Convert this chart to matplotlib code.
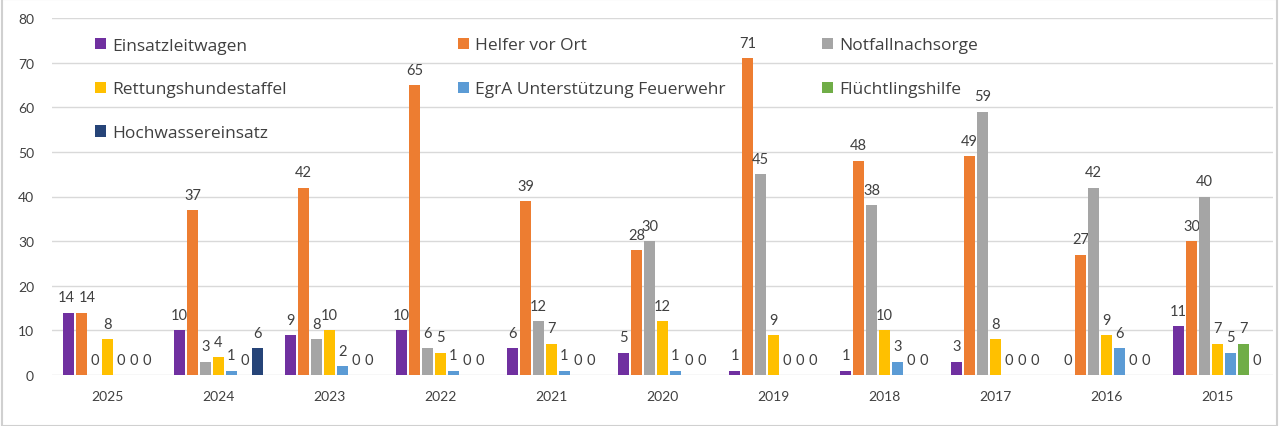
import matplotlib
matplotlib.use("Agg")
import matplotlib.pyplot as plt
from matplotlib.patches import Patch, Rectangle
import numpy as np

years = ["2025", "2024", "2023", "2022", "2021", "2020", "2019", "2018", "2017", "2016", "2015"]
series_names = ["Einsatzleitwagen", "Helfer vor Ort", "Notfallnachsorge", "Rettungshundestaffel",
                "EgrA Unterstützung Feuerwehr", "Flüchtlingshilfe", "Hochwassereinsatz"]
einsatzleitwagen = [14, 10, 9, 10, 6, 5, 1, 1, 3, 0, 11]
helfer_vor_ort = [14, 37, 42, 65, 39, 28, 71, 48, 49, 27, 30]
notfallnachsorge = [0, 3, 8, 6, 12, 30, 45, 38, 59, 42, 40]
rettungshundestaffel = [8, 4, 10, 5, 7, 12, 9, 10, 8, 9, 7]
egra_feuerwehr = [0, 1, 2, 1, 1, 1, 0, 3, 0, 6, 5]
fluechtlingshilfe = [0, 0, 0, 0, 0, 0, 0, 0, 0, 0, 7]
hochwasser = [0, 6, 0, 0, 0, 0, 0, 0, 0, 0, 0]
yticks = [0, 10, 20, 30, 40, 50, 60, 70, 80]

series = [einsatzleitwagen, helfer_vor_ort, notfallnachsorge, rettungshundestaffel,
          egra_feuerwehr, fluechtlingshilfe, hochwasser]
colors = ["#7030A0", "#ED7D31", "#A5A5A5", "#FFC000", "#5B9BD5", "#70AD47", "#264478"]

plt.rcParams["font.family"] = ["Lato", "DejaVu Sans"]
txt = "#404040"

fig = plt.figure(figsize=(12.8, 4.27), dpi=100)
ax = fig.add_axes([52 / 1280, 51 / 427, 1221 / 1280, 357 / 427])

x = np.arange(len(years))
pitch = 0.117
width = 0.095
n = len(series)
all_labels = []
for i, (vals, c) in enumerate(zip(series, colors)):
    off = (i - (n - 1) / 2) * pitch
    bars = ax.bar(x + off, vals, width=width, color=c, zorder=3, label=series_names[i])
    anns = ax.bar_label(bars, labels=[str(v) for v in vals], padding=6, fontsize=10.5, color=txt)
    all_labels.append(anns)

# spread apart the two equal-height labels in 2025, as the reference does
all_labels[0][0].xyann = (-1.5, 6)
all_labels[1][0].xyann = (4, 6)

ax.set_xlim(-0.5, len(years) - 0.5)
ax.set_ylim(0, 80)
ax.set_yticks(yticks)
ax.set_xticks(x)
ax.set_xticklabels(years)
ax.tick_params(axis="both", length=0, labelsize=10, labelcolor=txt)
ax.tick_params(axis="x", pad=11)
ax.tick_params(axis="y", pad=13)
ax.grid(axis="y", color="#D9D9D9", linewidth=1, zorder=0)
for s in ax.spines.values():
    s.set_visible(False)

handles = [Patch(facecolor=c, edgecolor="none") for c in colors]
cols = [[0, 3, 6], [1, 4], [2, 5]]
xs = [95, 458, 822]
for k, (idx, xp) in enumerate(zip(cols, xs)):
    leg = ax.legend([handles[i] for i in idx], [series_names[i] for i in idx],
                    loc="upper left", bbox_to_anchor=(xp / 1280, (427 - 38.5) / 427),
                    bbox_transform=fig.transFigure, frameon=False,
                    prop={"family": "Open Sans", "size": 12.5},
                    handlelength=0.62, handleheight=0.62, handletextpad=0.35,
                    labelspacing=1.6, borderpad=0, borderaxespad=0, labelcolor=txt)
    if k < 2:
        ax.add_artist(leg)

fig.patches.append(Rectangle((1.5 / 1280, 0), 1 - 4.5 / 1280, 1, transform=fig.transFigure,
                             fill=False, edgecolor="#D0D0D0", linewidth=1.5))

fig.savefig("out.png", dpi=100, facecolor="white")
